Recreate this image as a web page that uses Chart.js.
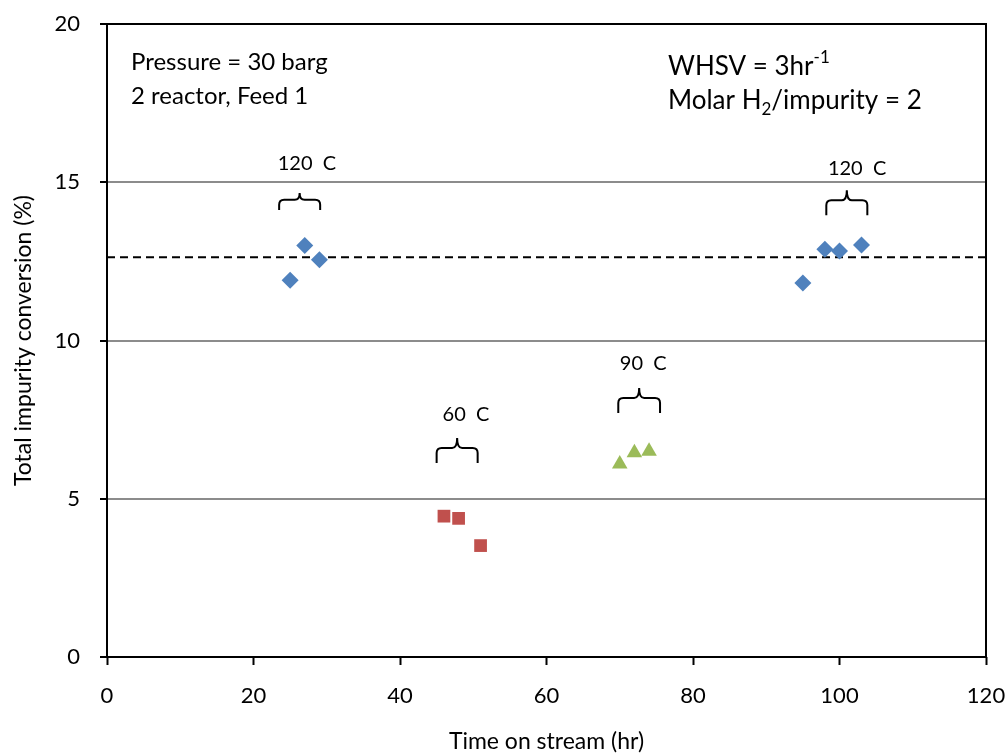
<!DOCTYPE html>
<html>
<head>
<meta charset="utf-8">
<script src="https://cdn.jsdelivr.net/npm/chart.js@4.4.1/dist/chart.umd.min.js"></script>
<style>
  html, body { margin: 0; padding: 0; background: #fff; }
  #wrap { width: 1008px; height: 755px; }
</style>
</head>
<body>
<div id="wrap"><canvas id="chart"></canvas></div>
<script>
// data
const temp120aX = [25, 27, 29];
const temp120aY = [11.9, 13.0, 12.55];
const temp60X = [46, 48, 51];
const temp60Y = [4.45, 4.38, 3.52];
const temp90X = [70, 72, 74];
const temp90Y = [6.1, 6.45, 6.5];
const temp120bX = [95, 98, 100, 103];
const temp120bY = [11.82, 12.88, 12.83, 13.02];
const averageLevel = 12.63;
const xTicks = [0, 20, 40, 60, 80, 100, 120];
const yTicks = [0, 5, 10, 15, 20];

// brace annotations: [xStart, xEnd, yTop, yBottom, labelX, labelY, text]
const braces = [
  [23.5, 29.1, 14.66, 14.12, 27.3, 15.6, '120  C'],
  [45.0, 50.6, 6.92, 6.13, 49.0, 7.65, '60  C'],
  [69.8, 75.5, 8.5, 7.71, 73.2, 9.26, '90  C'],
  [98.2, 103.8, 14.75, 13.96, 102.4, 15.42, '120  C']
];

const FONT = 'Lato, "Open Sans", sans-serif';

function pts(xs, ys) {
  return xs.map((x, i) => ({ x: x, y: ys[i] }));
}

// border box + braces + text notes
const extras = {
  id: 'extras',
  afterDatasetsDraw(chart) {
    const ctx = chart.ctx;
    const a = chart.chartArea;
    const xs = chart.scales.x, ys = chart.scales.y;
    ctx.save();
    ctx.strokeStyle = '#000';
    ctx.lineWidth = 2;
    ctx.strokeRect(a.left, a.top, a.right - a.left, a.bottom - a.top);

    // braces
    ctx.lineWidth = 2;
    braces.forEach(b => {
      const x0 = xs.getPixelForValue(b[0]);
      const x1 = xs.getPixelForValue(b[1]);
      const yt = ys.getPixelForValue(b[2]);
      const yb = ys.getPixelForValue(b[3]);
      const xm = (x0 + x1) / 2;
      const yc = yt + (yb - yt) * 0.4;
      const r = 5;
      ctx.beginPath();
      ctx.moveTo(x0, yb);
      ctx.lineTo(x0, yc + r);
      ctx.quadraticCurveTo(x0, yc, x0 + r, yc);
      ctx.lineTo(xm - r, yc);
      ctx.quadraticCurveTo(xm, yc, xm, yt);
      ctx.quadraticCurveTo(xm, yc, xm + r, yc);
      ctx.lineTo(x1 - r, yc);
      ctx.quadraticCurveTo(x1, yc, x1, yc + r);
      ctx.lineTo(x1, yb);
      ctx.stroke();

      ctx.fillStyle = '#000';
      ctx.font = '20px ' + FONT;
      ctx.textAlign = 'center';
      ctx.textBaseline = 'middle';
      ctx.fillText(b[6], xs.getPixelForValue(b[4]), ys.getPixelForValue(b[5]));
    });

    // notes
    ctx.fillStyle = '#000';
    ctx.textAlign = 'left';
    ctx.textBaseline = 'middle';
    ctx.font = '24px ' + FONT;
    ctx.fillText('Pressure = 30 barg', 131, 62);
    ctx.fillText('2 reactor, Feed 1', 131, 96);

    ctx.font = '26px ' + FONT;
    let x = 668;
    ctx.fillText('WHSV = 3hr', x, 67);
    x += ctx.measureText('WHSV = 3hr').width;
    ctx.font = '17px ' + FONT;
    ctx.fillText('-1', x, 58);

    x = 668;
    ctx.font = '26px ' + FONT;
    ctx.fillText('Molar H', x, 101);
    x += ctx.measureText('Molar H').width;
    ctx.font = '17px ' + FONT;
    ctx.fillText('2', x, 110);
    x += ctx.measureText('2').width;
    ctx.font = '26px ' + FONT;
    ctx.fillText('/impurity = 2', x, 101);
    ctx.restore();
  }
};

new Chart(document.getElementById('chart'), {
  type: 'scatter',
  data: {
    datasets: [
      {
        label: 'average',
        type: 'line',
        data: [{ x: 0, y: averageLevel }, { x: 120, y: averageLevel }],
        borderColor: '#000',
        borderWidth: 2,
        borderDash: [8, 5],
        pointRadius: 0,
        order: 5
      },
      {
        label: '120 C',
        data: pts(temp120aX, temp120aY).concat(pts(temp120bX, temp120bY)),
        pointStyle: 'rectRot',
        pointRadius: 8.5,
        backgroundColor: '#4F81BD',
        borderColor: '#4F81BD',
        borderWidth: 0
      },
      {
        label: '60 C',
        data: pts(temp60X, temp60Y),
        pointStyle: 'rect',
        pointRadius: 9,
        backgroundColor: '#C0504D',
        borderColor: '#C0504D',
        borderWidth: 0
      },
      {
        label: '90 C',
        data: pts(temp90X, temp90Y),
        pointStyle: 'triangle',
        pointRadius: 9,
        backgroundColor: '#9BBB59',
        borderColor: '#9BBB59',
        borderWidth: 0
      }
    ]
  },
  options: {
    responsive: true,
    maintainAspectRatio: false,
    animation: false,
    layout: { padding: { top: 24, right: 22, left: 0, bottom: 0 } },
    plugins: {
      legend: { display: false },
      tooltip: { enabled: false }
    },
    scales: {
      x: {
        type: 'linear',
        min: 0,
        max: 120,
        afterBuildTicks: (s) => { s.ticks = xTicks.map(v => ({ value: v })); },
        afterFit: (s) => { s.height = 98; s.paddingLeft = 0; s.paddingRight = 0; },
        border: { display: false },
        grid: {
          drawOnChartArea: false,
          drawTicks: true,
          tickLength: 8,
          tickColor: '#000',
          tickWidth: 2
        },
        ticks: {
          padding: 18,
          color: '#000',
          font: { family: FONT, size: 22 }
        },
        title: {
          display: true,
          text: 'Time on stream (hr)',
          color: '#000',
          font: { family: FONT, size: 23 },
          padding: { top: 0, bottom: 0 }
        }
      },
      y: {
        type: 'linear',
        min: 0,
        max: 20,
        afterBuildTicks: (s) => { s.ticks = yTicks.map(v => ({ value: v })); },
        afterFit: (s) => { s.width = 107; s.paddingTop = 0; s.paddingBottom = 0; },
        border: { display: false },
        grid: {
          color: (c) => (c.tick && (c.tick.value === 0 || c.tick.value === 20)) ? 'rgba(0,0,0,0)' : '#8c8c8c',
          lineWidth: 2,
          drawTicks: true,
          tickLength: 7,
          tickColor: '#000',
          tickWidth: 2
        },
        ticks: {
          padding: 20,
          color: '#000',
          font: { family: FONT, size: 22 }
        },
        title: {
          display: true,
          text: 'Total impurity conversion (%)',
          color: '#000',
          font: { family: FONT, size: 23 },
          padding: { top: 10, bottom: 20 }
        }
      }
    }
  },
  plugins: [extras]
});
</script>
</body>
</html>
